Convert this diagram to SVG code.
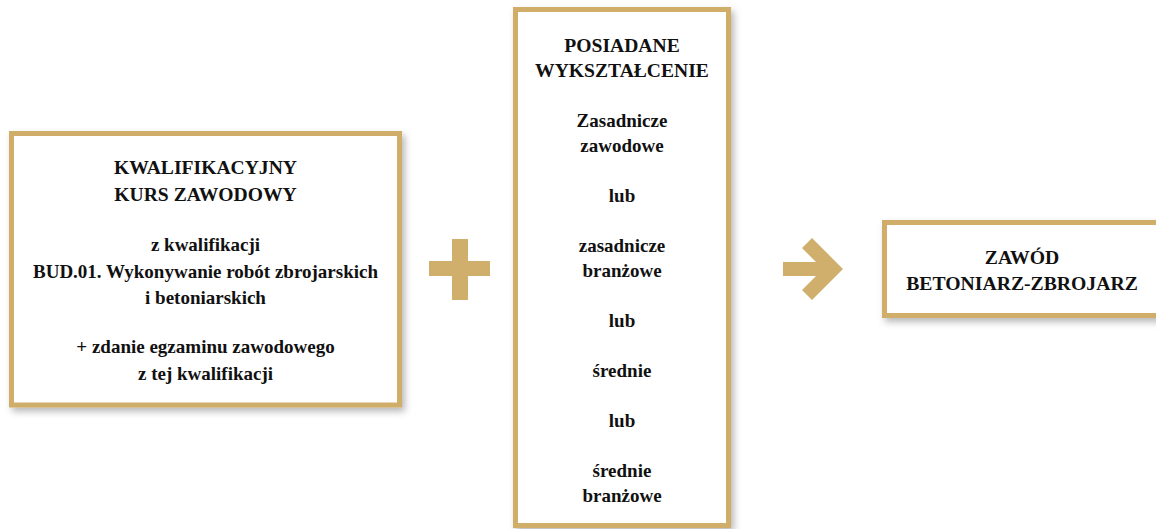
<svg xmlns="http://www.w3.org/2000/svg" width="1156" height="529" viewBox="0 0 1156 529">
<defs>
<filter id="sh" x="-10%" y="-10%" width="130%" height="130%">
<feDropShadow dx="3" dy="4" stdDeviation="3.5" flood-color="#000" flood-opacity="0.28"/>
</filter>
<style>
.box{fill:#fff;stroke:#D0AE6B;stroke-width:5;filter:url(#sh)}
.gold{fill:#D0AE6B}
</style>
</defs>
<rect width="1156" height="529" fill="#fff"/>
<g id="kurs">
<rect class="box" x="11.5" y="133.5" width="388" height="271.5"/>
<g text-anchor="middle" fill="#111">
<text x="205.5" y="174" font-family="Liberation Serif" font-weight="bold" font-size="19.6">KWALIFIKACYJNY</text>
<text x="205.5" y="201" font-family="Liberation Serif" font-weight="bold" font-size="19.6">KURS ZAWODOWY</text>
<text x="205.5" y="251" font-family="Liberation Serif" font-weight="bold" font-size="19">z kwalifikacji</text>
<text x="205.5" y="277.5" font-family="Liberation Serif" font-weight="bold" font-size="19">BUD.01. Wykonywanie robót zbrojarskich</text>
<text x="205.5" y="304" font-family="Liberation Serif" font-weight="bold" font-size="19">i betoniarskich</text>
<text x="205.5" y="353" font-family="Liberation Serif" font-weight="bold" font-size="19">+ zdanie egzaminu zawodowego</text>
<text x="205.5" y="380" font-family="Liberation Serif" font-weight="bold" font-size="19">z tej kwalifikacji</text>
</g>
</g>
<g id="wyksztalcenie">
<rect class="box" x="515.5" y="9.5" width="213" height="516"/>
<g text-anchor="middle" fill="#111">
<text x="622" y="52" font-family="Liberation Serif" font-weight="bold" font-size="19.6">POSIADANE</text>
<text x="622" y="77" font-family="Liberation Serif" font-weight="bold" font-size="19.6">WYKSZTAŁCENIE</text>
<text x="622" y="127" font-family="Liberation Serif" font-weight="bold" font-size="19">Zasadnicze</text>
<text x="622" y="152" font-family="Liberation Serif" font-weight="bold" font-size="19">zawodowe</text>
<text x="622" y="202" font-family="Liberation Serif" font-weight="bold" font-size="19">lub</text>
<text x="622" y="252" font-family="Liberation Serif" font-weight="bold" font-size="19">zasadnicze</text>
<text x="622" y="277" font-family="Liberation Serif" font-weight="bold" font-size="19">branżowe</text>
<text x="622" y="327" font-family="Liberation Serif" font-weight="bold" font-size="19">lub</text>
<text x="622" y="377" font-family="Liberation Serif" font-weight="bold" font-size="19">średnie</text>
<text x="622" y="427" font-family="Liberation Serif" font-weight="bold" font-size="19">lub</text>
<text x="622" y="477" font-family="Liberation Serif" font-weight="bold" font-size="19">średnie</text>
<text x="622" y="502" font-family="Liberation Serif" font-weight="bold" font-size="19">branżowe</text>
</g>
</g>
<g id="zawod">
<rect class="box" x="884.5" y="222.5" width="280" height="93"/>
<g text-anchor="middle" fill="#111">
<text x="1022" y="264" font-family="Liberation Serif" font-weight="bold" font-size="19.7">ZAWÓD</text>
<text x="1022" y="290" font-family="Liberation Serif" font-weight="bold" font-size="19.7">BETONIARZ-ZBROJARZ</text>
</g>
</g>
<g id="connectors">
<path id="plus" class="gold" d="M452 239H468V261H490V276H468V300H452V276H429V261H452Z"/>
<polygon id="arrow" class="gold" points="783,262 816,262 802,248 812,238 843,269 812,300 802,290 816,276 783,276"/>
</g>
</svg>
